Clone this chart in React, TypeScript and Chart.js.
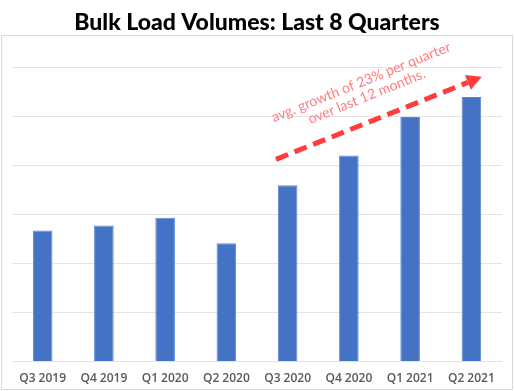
import React, { useEffect, useRef } from "react";
import { Chart, registerables } from "chart.js";

Chart.register(...registerables);

const categories = ["Q3 2019", "Q4 2019", "Q1 2020", "Q2 2020", "Q3 2020", "Q4 2020", "Q1 2021", "Q2 2021"];
const volumes = [2.67, 2.77, 2.93, 2.41, 3.59, 4.2, 4.98, 5.39];
const titleText = "Bulk Load Volumes: Last 8 Quarters";
const noteLines = ["avg. growth of 23% per quarter", "over last 12 months."];
// annotation anchor points in data coordinates [category index, value]
const arrowStart = [3.81, 4.12];
const arrowEnd = [7.17, 5.8];
const noteCenters = [
  [5.2, 5.69],
  [5.29, 5.4],
];

const frameAndNote = {
  id: "frameAndNote",
  beforeDraw(chart: any) {
    const ctx = chart.ctx;
    ctx.save();
    ctx.fillStyle = "#ffffff";
    ctx.fillRect(0, 0, chart.width, chart.height);
    ctx.strokeStyle = "#d9d9d9";
    ctx.lineWidth = 1;
    ctx.strokeRect(1.5, 35.5, chart.width - 3, chart.height - 37);
    ctx.restore();
  },
  afterDatasetsDraw(chart: any) {
    const ctx = chart.ctx;
    const xs = chart.scales.x;
    const ys = chart.scales.y;
    const x0 = xs.getPixelForValue(arrowStart[0]);
    const y0 = ys.getPixelForValue(arrowStart[1]);
    const x1 = xs.getPixelForValue(arrowEnd[0]);
    const y1 = ys.getPixelForValue(arrowEnd[1]);
    const ang = Math.atan2(y1 - y0, x1 - x0);
    const headLen = 15;
    const headW = 8;
    const bx = x1 - headLen * Math.cos(ang);
    const by = y1 - headLen * Math.sin(ang);
    ctx.save();
    ctx.strokeStyle = "#ff3b3b";
    ctx.fillStyle = "#ff3b3b";
    ctx.lineWidth = 5;
    ctx.setLineDash([13, 7]);
    ctx.beginPath();
    ctx.moveTo(x0, y0);
    ctx.lineTo(bx, by);
    ctx.stroke();
    ctx.setLineDash([]);
    ctx.beginPath();
    ctx.moveTo(x1, y1);
    ctx.lineTo(bx + headW * Math.sin(ang), by - headW * Math.cos(ang));
    ctx.lineTo(bx - headW * Math.sin(ang), by + headW * Math.cos(ang));
    ctx.closePath();
    ctx.fill();

    ctx.fillStyle = "#ff7c80";
    ctx.font = "400 14px Lato";
    ctx.textAlign = "center";
    ctx.textBaseline = "middle";
    noteLines.forEach((line, i) => {
      const cx = xs.getPixelForValue(noteCenters[i][0]);
      const cy = ys.getPixelForValue(noteCenters[i][1]);
      ctx.save();
      ctx.translate(cx, cy);
      ctx.rotate((-22 * Math.PI) / 180);
      ctx.fillText(line, 0, 0);
      ctx.restore();
    });
    ctx.restore();
  },
};

export default function App() {
  const ref = useRef<HTMLCanvasElement | null>(null);
  useEffect(() => {
    document.body.style.margin = "0";
    const chart = new Chart(ref.current!, {
      type: "bar",
      data: {
        labels: categories,
        datasets: [
          {
            data: volumes,
            backgroundColor: "#4472c4",
            borderColor: "#5b86d6",
            borderWidth: 1,
            barPercentage: 0.32,
            categoryPercentage: 1,
          },
        ],
      },
      options: {
        animation: false,
        responsive: false,
        maintainAspectRatio: false,
        layout: { padding: { left: 12, right: 12, top: 0, bottom: -5 } },
        plugins: {
          legend: { display: false },
          tooltip: { enabled: false },
          title: {
            display: true,
            text: titleText,
            color: "#000000",
            font: { family: "Lato", size: 23, weight: "900" },
            padding: { top: 8.5, bottom: 30.9 },
          },
        },
        scales: {
          x: {
            grid: { display: false, drawTicks: false },
            border: { display: false },
            ticks: {
              color: "#595959",
              font: { family: "Open Sans", size: 12, weight: "600" },
              padding: 10,
              maxRotation: 0,
            },
          },
          y: {
            min: 0,
            max: 6,
            border: { display: false },
            grid: { color: "#e3e3e3", drawTicks: false, lineWidth: 1 },
            ticks: { display: false, stepSize: 1 },
          },
        },
      },
      plugins: [frameAndNote],
    });
    return () => chart.destroy();
  }, []);
  return (
    <div style={{ position: "absolute", left: 0, top: 0, width: 514, height: 391 }}>
      <canvas ref={ref} width={514} height={391} style={{ width: 514, height: 391 }} />
    </div>
  );
}
